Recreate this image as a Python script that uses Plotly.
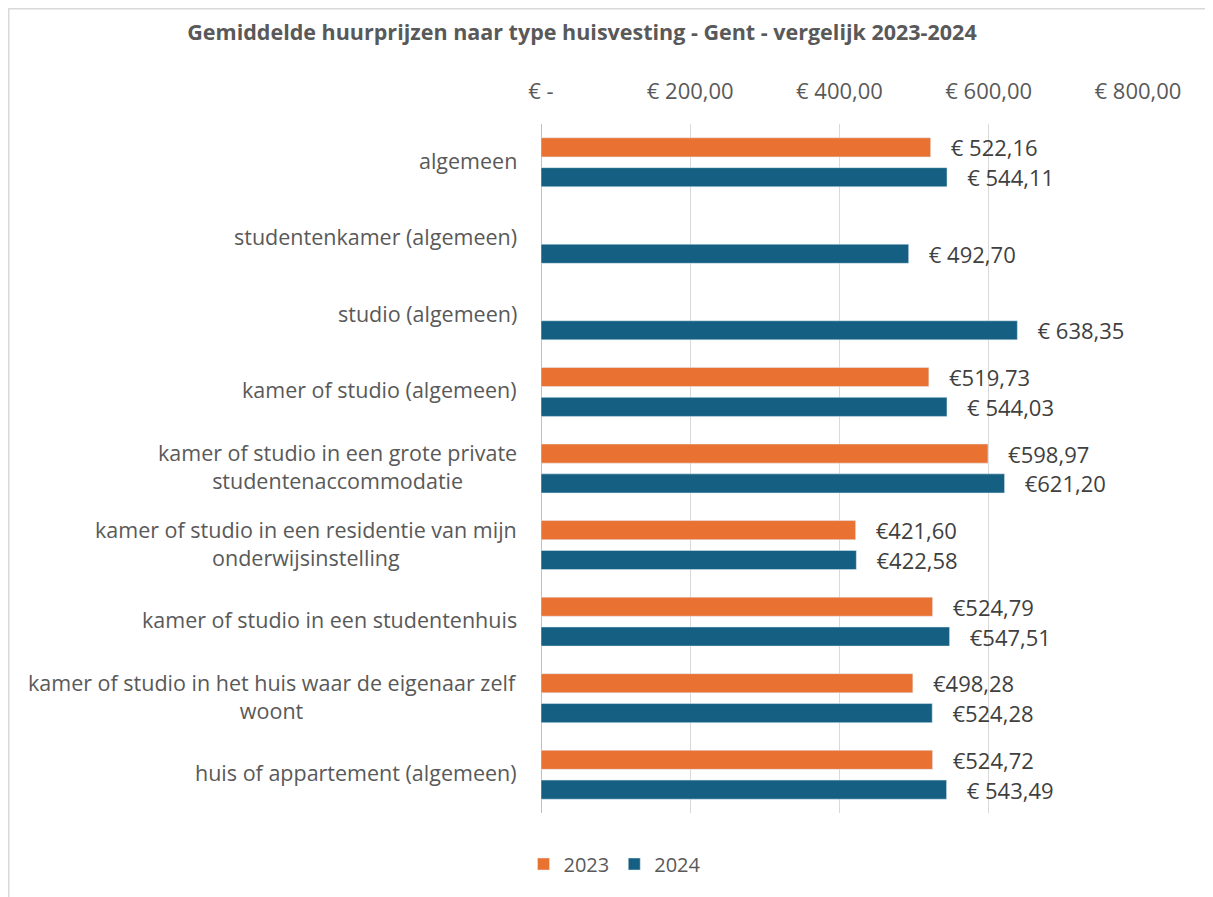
import plotly.graph_objects as go

categories = [
    "algemeen",
    "studentenkamer (algemeen)",
    "studio (algemeen)",
    "kamer of studio (algemeen)",
    "kamer of studio in een grote private<br>studentenaccommodatie",
    "kamer of studio in een residentie van mijn<br>onderwijsinstelling",
    "kamer of studio in een studentenhuis",
    "kamer of studio in het huis waar de eigenaar zelf<br>woont",
    "huis of appartement (algemeen)",
]
values_2023 = [522.16, None, None, 519.73, 598.97, 421.60, 524.79, 498.28, 524.72]
values_2024 = [544.11, 492.70, 638.35, 544.03, 621.20, 422.58, 547.51, 524.28, 543.49]
labels_2023 = ["€ 522,16", "", "", "€519,73", "€598,97", "€421,60", "€524,79", "€498,28", "€524,72"]
labels_2024 = ["€ 544,11", "€ 492,70", "€ 638,35", "€ 544,03", "€621,20", "€422,58", "€547,51", "€524,28", "€ 543,49"]
tick_values = [0, 200, 400, 600, 800]
tick_labels = ["€ -", "€ 200,00", "€ 400,00", "€ 600,00", "€ 800,00"]

# page offset (default body margin) is 8px
OFF = 8
W, H = 1213 - OFF, 897 - OFF
ML, MR, MT, MB = 541 - OFF, 75, 124 - OFF, 84
FONT = "Open Sans"
GREY = "#595959"
pad = "\u00a0\u00a0\u00a0"

fig = go.Figure()
fig.add_trace(go.Bar(
    y=categories, x=values_2023, orientation="h", name="2023",
    marker=dict(color="#E97132"),
    text=[pad + t if t else "" for t in labels_2023], textposition="outside",
    textfont=dict(size=22, color="#404040", family=FONT), constraintext="none",
    cliponaxis=False,
))
fig.add_trace(go.Bar(
    y=categories, x=values_2024, orientation="h", name="2024",
    marker=dict(color="#156082"),
    text=[pad + t for t in labels_2024], textposition="outside",
    textfont=dict(size=22, color="#404040", family=FONT), constraintext="none",
    cliponaxis=False,
))

for c in categories:
    fig.add_annotation(
        x=0, xref="paper", y=c, yref="y", xanchor="right", xshift=-22, yshift=2,
        text=c, showarrow=False, align="center",
        font=dict(size=21.5, color=GREY, family=FONT),
    )

pw = W - ML - MR
ph = H - MT - MB
def px_x(p):
    return (p - OFF - ML) / pw
def px_y(p):
    return (H - MB - (p - OFF)) / ph

fig.add_shape(type="line", xref="paper", yref="paper",
              x0=px_x(8), x1=px_x(1213), y0=px_y(8.5), y1=px_y(8.5),
              line=dict(color="#d9d9d9", width=2))
fig.add_shape(type="line", xref="paper", yref="paper",
              x0=px_x(8.5), x1=px_x(8.5), y0=px_y(8), y1=px_y(897),
              line=dict(color="#d9d9d9", width=2))

fig.update_layout(
    width=W, height=H,
    margin=dict(l=ML, r=MR, t=MT, b=MB),
    paper_bgcolor="white", plot_bgcolor="white",
    barmode="group", bargap=0.22, bargroupgap=0.36,
    title=dict(text="<b>Gemiddelde huurprijzen naar type huisvesting - Gent - vergelijk 2023-2024</b>",
               x=(582 - OFF) / W, xanchor="center", y=1 - (32 - OFF) / H, yanchor="middle",
               font=dict(size=21.5, color=GREY, family=FONT)),
    legend=dict(orientation="h", x=px_x(615), xanchor="center", y=px_y(864), yanchor="middle",
                font=dict(size=20, color=GREY, family=FONT), traceorder="normal"),
    font=dict(family=FONT, color=GREY),
)
fig.update_xaxes(
    range=[0, 800], side="top", tickvals=tick_values, ticktext=tick_labels,
    showgrid=True, gridcolor="#d9d9d9", gridwidth=1,
    zeroline=True, zerolinecolor="#bfbfbf", zerolinewidth=1,
    tickfont=dict(size=22, color=GREY, family=FONT), ticks="", ticklabelstandoff=20,
    showline=False, fixedrange=True,
)
fig.update_yaxes(
    autorange="reversed", showticklabels=False, showgrid=False, zeroline=False,
    showline=False, ticks="",
)

fig.write_html("out.html")
